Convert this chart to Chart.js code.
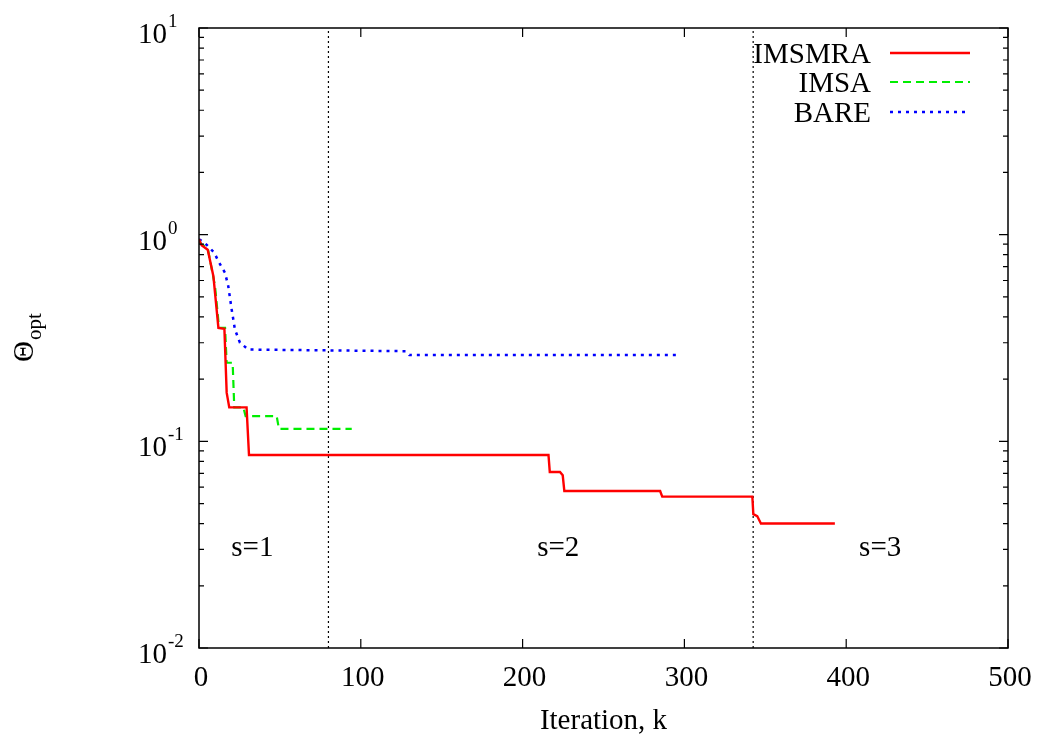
<!DOCTYPE html>
<html>
<head>
<meta charset="utf-8">
<script src="https://cdn.jsdelivr.net/npm/chart.js@4.4.1/dist/chart.umd.min.js"></script>
<style>
  html, body { margin: 0; padding: 0; background: #fff; }
  #wrap { width: 1037px; height: 740px; }
</style>
</head>
<body>
<div id="wrap"><canvas id="thetaChart" width="1037" height="740"></canvas></div>
<script>
// values
const imsmraK = [0, 1.6, 5.4, 8.9, 12, 15.7, 17.1, 18.7, 29.4, 30.9, 216, 216.8, 223.1, 224.8, 225.8, 285, 286.3, 342, 342.6, 345, 347.3, 393];
const imsmraV = [0.95, 0.89, 0.846, 0.63, 0.354, 0.35, 0.172, 0.146, 0.146, 0.0859, 0.0859, 0.0711, 0.0711, 0.0685, 0.0575, 0.0575, 0.054, 0.054, 0.0444, 0.0435, 0.040, 0.040];

const imsaK = [0, 1.5, 5.4, 9.9, 12.4, 16.1, 17.1, 20.8, 21.8, 27.4, 28.8, 48, 49.4, 94.4];
const imsaV = [0.93, 0.9, 0.86, 0.563, 0.354, 0.354, 0.24, 0.24, 0.146, 0.146, 0.1325, 0.1325, 0.115, 0.115];

const bareK = [0, 3.7, 6.8, 9.5, 12, 16.1, 18.1, 20.2, 22.2, 25.3, 30.5, 128, 130, 297];
const bareV = [0.95, 0.91, 0.86, 0.816, 0.743, 0.653, 0.563, 0.434, 0.348, 0.3, 0.278, 0.273, 0.262, 0.262];

const stageBounds = [80, 342.5];
const stageLabels = ['s=1', 's=2', 's=3'];
const stageLabelK = [33, 222, 421];
const stageLabelY = 0.0304;

const xTicks = [0, 100, 200, 300, 400, 500];
const yTickExp = [1, 0, -1, -2];

const FONT = '"Liberation Serif", "DejaVu Serif", serif';

const toPts = (ks, vs) => ks.map((k, i) => ({ x: k, y: vs[i] }));

const datasets = [
    {
        label: 'IMSMRA',
        data: toPts(imsmraK, imsmraV),
        borderColor: '#ff0000',
        borderWidth: 2.4,
        pointRadius: 0,
        tension: 0
    },
    {
        label: 'IMSA',
        data: toPts(imsaK, imsaV),
        borderColor: '#00ee00',
        borderWidth: 2.2,
        borderDash: [8, 5],
        pointRadius: 0,
        tension: 0
    },
    {
        label: 'BARE',
        data: toPts(bareK, bareV),
        borderColor: '#0000ff',
        borderWidth: 2.5,
        borderDash: [3, 5],
        pointRadius: 0,
        tension: 0
    }
];

stageBounds.forEach(k => {
    datasets.push({
        label: '',
        isBound: true,
        data: [{ x: k, y: 0.01 }, { x: k, y: 10 }],
        borderColor: '#000',
        borderWidth: 1.2,
        borderDash: [2, 3],
        pointRadius: 0
    });
});

// frame, inward ticks, labels and key (gnuplot look)
const gnuplotDecor = {
    id: 'gnuplotDecor',
    afterDatasetsDraw(chart) {
        const ctx = chart.ctx;
        const a = chart.chartArea;
        const xs = chart.scales.x;
        const ys = chart.scales.y;
        ctx.save();

        ctx.strokeStyle = '#000';
        ctx.lineWidth = 1.5;
        ctx.strokeRect(a.left, a.top, a.right - a.left, a.bottom - a.top);

        ctx.lineWidth = 1.2;
        ctx.beginPath();
        xTicks.forEach(v => {
            const px = xs.getPixelForValue(v);
            ctx.moveTo(px, a.bottom); ctx.lineTo(px, a.bottom - 9);
            ctx.moveTo(px, a.top); ctx.lineTo(px, a.top + 9);
        });
        yTickExp.forEach(e => {
            for (let m = 1; m <= 9; m++) {
                if (e === 1 && m > 1) continue;
                const py = ys.getPixelForValue(m * Math.pow(10, e));
                const len = m === 1 ? 9 : 5;
                ctx.moveTo(a.left, py); ctx.lineTo(a.left + len, py);
                ctx.moveTo(a.right, py); ctx.lineTo(a.right - len, py);
            }
        });
        ctx.stroke();

        ctx.fillStyle = '#000';
        ctx.textBaseline = 'alphabetic';
        ctx.font = '29px ' + FONT;
        ctx.textAlign = 'center';
        xTicks.forEach(v => {
            ctx.fillText(String(v), xs.getPixelForValue(v) + 2, a.bottom + 38);
        });

        yTickExp.forEach(e => {
            const py = ys.getPixelForValue(Math.pow(10, e));
            ctx.font = '29px ' + FONT;
            ctx.textAlign = 'right';
            ctx.fillText('10', 167, py + 15);
            ctx.font = '19px ' + FONT;
            ctx.textAlign = 'left';
            ctx.fillText(String(e), 168, py - 1);
        });

        ctx.textAlign = 'center';
        ctx.font = '29px ' + FONT;
        ctx.fillText('Iteration, k', (a.left + a.right) / 2, 729);

        ctx.save();
        ctx.translate(33, 362);
        ctx.rotate(-Math.PI / 2);
        ctx.textAlign = 'left';
        ctx.font = '29px ' + FONT;
        const thW = ctx.measureText('\u0398').width;
        ctx.fillText('\u0398', 0, 0);
        ctx.font = '21px ' + FONT;
        ctx.fillText('opt', thW + 1, 8);
        ctx.restore();

        ctx.font = '29px ' + FONT;
        ctx.textAlign = 'center';
        ctx.textBaseline = 'middle';
        stageLabels.forEach((t, i) => {
            ctx.fillText(t, xs.getPixelForValue(stageLabelK[i]), ys.getPixelForValue(stageLabelY));
        });

        // key
        const keyLineY = [53, 82, 112];
        ctx.textBaseline = 'alphabetic';
        chart.data.datasets.filter(d => !d.isBound).forEach((d, i) => {
            ctx.textAlign = 'right';
            ctx.fillStyle = '#000';
            ctx.fillText(d.label, 871, keyLineY[i] + 10);
            ctx.strokeStyle = d.borderColor;
            ctx.lineWidth = d.borderWidth;
            ctx.setLineDash(d.borderDash || []);
            ctx.beginPath();
            ctx.moveTo(890, keyLineY[i]);
            ctx.lineTo(970, keyLineY[i]);
            ctx.stroke();
        });
        ctx.setLineDash([]);
        ctx.restore();
    }
};

new Chart(document.getElementById('thetaChart').getContext('2d'), {
    type: 'line',
    data: { datasets: datasets },
    options: {
        responsive: false,
        animation: false,
        layout: { padding: { left: 0, top: 28, right: 29, bottom: 0 } },
        scales: {
            x: {
                type: 'linear',
                min: 0,
                max: 500,
                ticks: { display: false },
                grid: { display: false },
                border: { display: false },
                afterFit: s => { s.height = 92; }
            },
            y: {
                type: 'logarithmic',
                min: 0.01,
                max: 10,
                ticks: { display: false },
                grid: { display: false },
                border: { display: false },
                afterFit: s => { s.width = 199; }
            }
        },
        plugins: {
            legend: { display: false },
            tooltip: { enabled: false }
        }
    },
    plugins: [gnuplotDecor]
});
</script>
</body>
</html>
